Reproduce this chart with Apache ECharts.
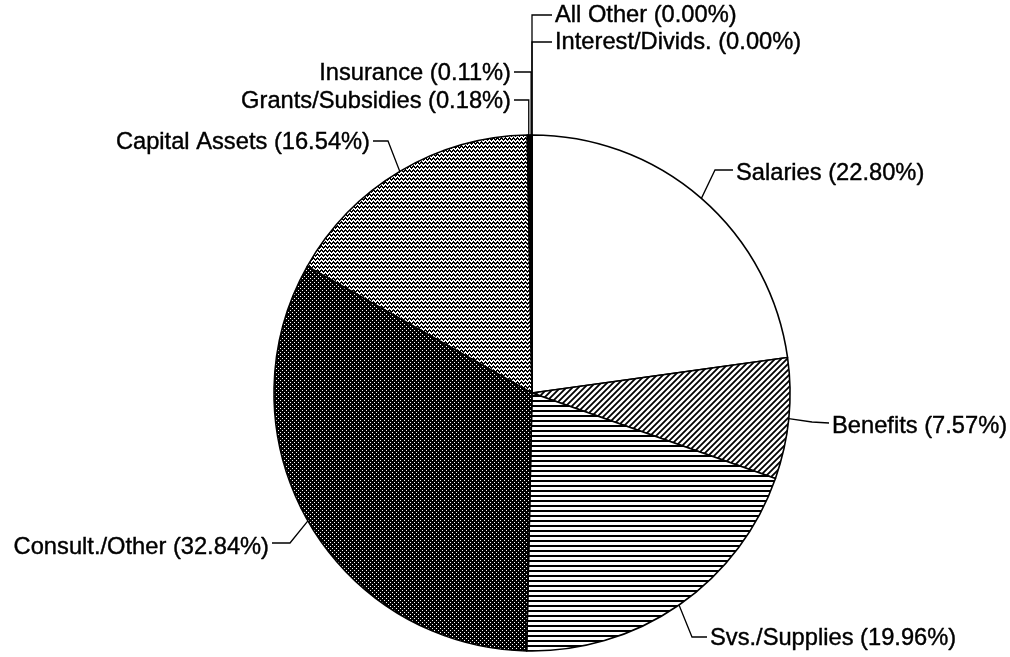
<!DOCTYPE html>
<html><head><meta charset="utf-8">
<script src="https://cdn.jsdelivr.net/npm/echarts@6/dist/echarts.min.js"></script>
<style>html,body{margin:0;padding:0;background:#fff}#c{width:1010px;height:657px}</style>
</head><body><div id="c"></div>
<script>
const categories = ['Salaries','Benefits','Svs./Supplies','Consult./Other','Capital Assets','Grants/Subsidies','Insurance','Interest/Divids.','All Other'];
const shares = [22.80, 7.57, 19.96, 32.84, 16.54, 0.18, 0.11, 0.00, 0.00];

// label placement (callout elbow / line end / text side)
const labelPlacement = {
  'Salaries':        {elbow:[715,170], end:[733,170], align:'left',  ty:173},
  'Benefits':        {elbow:[812,422], end:[829,423], align:'left',  ty:426},
  'Svs./Supplies':   {elbow:[692,637], end:[707,637], align:'left',  ty:638},
  'Consult./Other':  {elbow:[290,543], end:[272,543], align:'right', ty:547},
  'Capital Assets':  {elbow:[388,141], end:[373,141], align:'right', ty:142},
  'Grants/Subsidies':{vert:true, end:[514,100], align:'right', ty:101},
  'Insurance':       {vert:true, end:[514,72],  align:'right', ty:73},
  'Interest/Divids.':{vert:true, end:[552,42],  align:'left',  ty:42},
  'All Other':       {vert:true, end:[552,15],  align:'left',  ty:15}
};

function makePattern(w, h, draw) {
  const c = document.createElement('canvas');
  c.width = w; c.height = h;
  const g = c.getContext('2d');
  g.fillStyle = '#fff'; g.fillRect(0, 0, w, h);
  g.fillStyle = '#000'; g.strokeStyle = '#000';
  draw(g, w, h);
  return {image: c, repeat: 'repeat'};
}
const patWhite = '#ffffff';
const patDiag = makePattern(6, 6, g => {
  g.lineWidth = 1.8;
  g.beginPath();
  g.moveTo(-1, 7); g.lineTo(7, -1);
  g.moveTo(-1, 1); g.lineTo(1, -1);
  g.moveTo(5, 7); g.lineTo(7, 5);
  g.stroke();
});
const patHoriz = makePattern(8, 5, g => { g.fillRect(0, 0, 8, 2); });
const patDots = makePattern(4, 4, g => {
  g.fillRect(0, 0, 4, 4);
  g.fillStyle = '#fff';
  g.fillRect(0, 0, 1, 1); g.fillRect(2, 2, 1, 1);
});
const patWave = makePattern(4, 4, g => {
  g.fillRect(0, 2, 1, 2); g.fillRect(1, 1, 1, 2); g.fillRect(2, 2, 1, 2); g.fillRect(3, 3, 1, 1); g.fillRect(3, 0, 1, 1);
});
const fills = [patWhite, patDiag, patHoriz, patDots, patWave, '#000', '#000', '#000', '#000'];

const chart = echarts.init(document.getElementById('c'), null, {renderer: 'canvas'});
const CX = 532, CY = 393, R = 258;

chart.setOption({
  backgroundColor: '#fff',
  animation: false,
  series: [{
    type: 'pie',
    center: [CX, CY],
    radius: R,
    startAngle: 90,
    clockwise: true,
    avoidLabelOverlap: false,
    emphasis: {disabled: true},
    data: categories.map((n, i) => ({name: n, value: shares[i], itemStyle: {color: fills[i]}})),
    itemStyle: {borderColor: '#000', borderWidth: 1.6},
    label: {
      show: true,
      position: 'outside',
      color: '#000',
      fontSize: 23.7,
      fontFamily: '"Liberation Sans", Arial, sans-serif',
      textBorderColor: '#000',
      textBorderWidth: 0.4,
      formatter: p => p.name + ' (' + Number(p.value).toFixed(2) + '%)'
    },
    labelLine: {show: true, length: 15, length2: 15, lineStyle: {color: '#000', width: 1.3}},
    labelLayout: function (p) {
      const name = categories[p.dataIndex];
      const cfg = labelPlacement[name];
      let anchor;
      if (p.labelLinePoints && p.labelLinePoints[0]) {
        anchor = p.labelLinePoints[0];
      } else {
        let cum = 0;
        for (let i = 0; i < p.dataIndex; i++) cum += shares[i];
        const a = (cum + shares[p.dataIndex] / 2) / 100 * 2 * Math.PI;
        anchor = [CX + R * Math.sin(a), CY - R * Math.cos(a)];
      }
      const elbow = cfg.vert ? [anchor[0], cfg.end[1]] : cfg.elbow;
      return {
        x: cfg.align === 'left' ? cfg.end[0] + 3 : cfg.end[0] - 3,
        y: cfg.ty,
        align: cfg.align,
        verticalAlign: 'middle',
        labelLinePoints: [anchor, elbow, cfg.end]
      };
    }
  }]
});
</script></body></html>
